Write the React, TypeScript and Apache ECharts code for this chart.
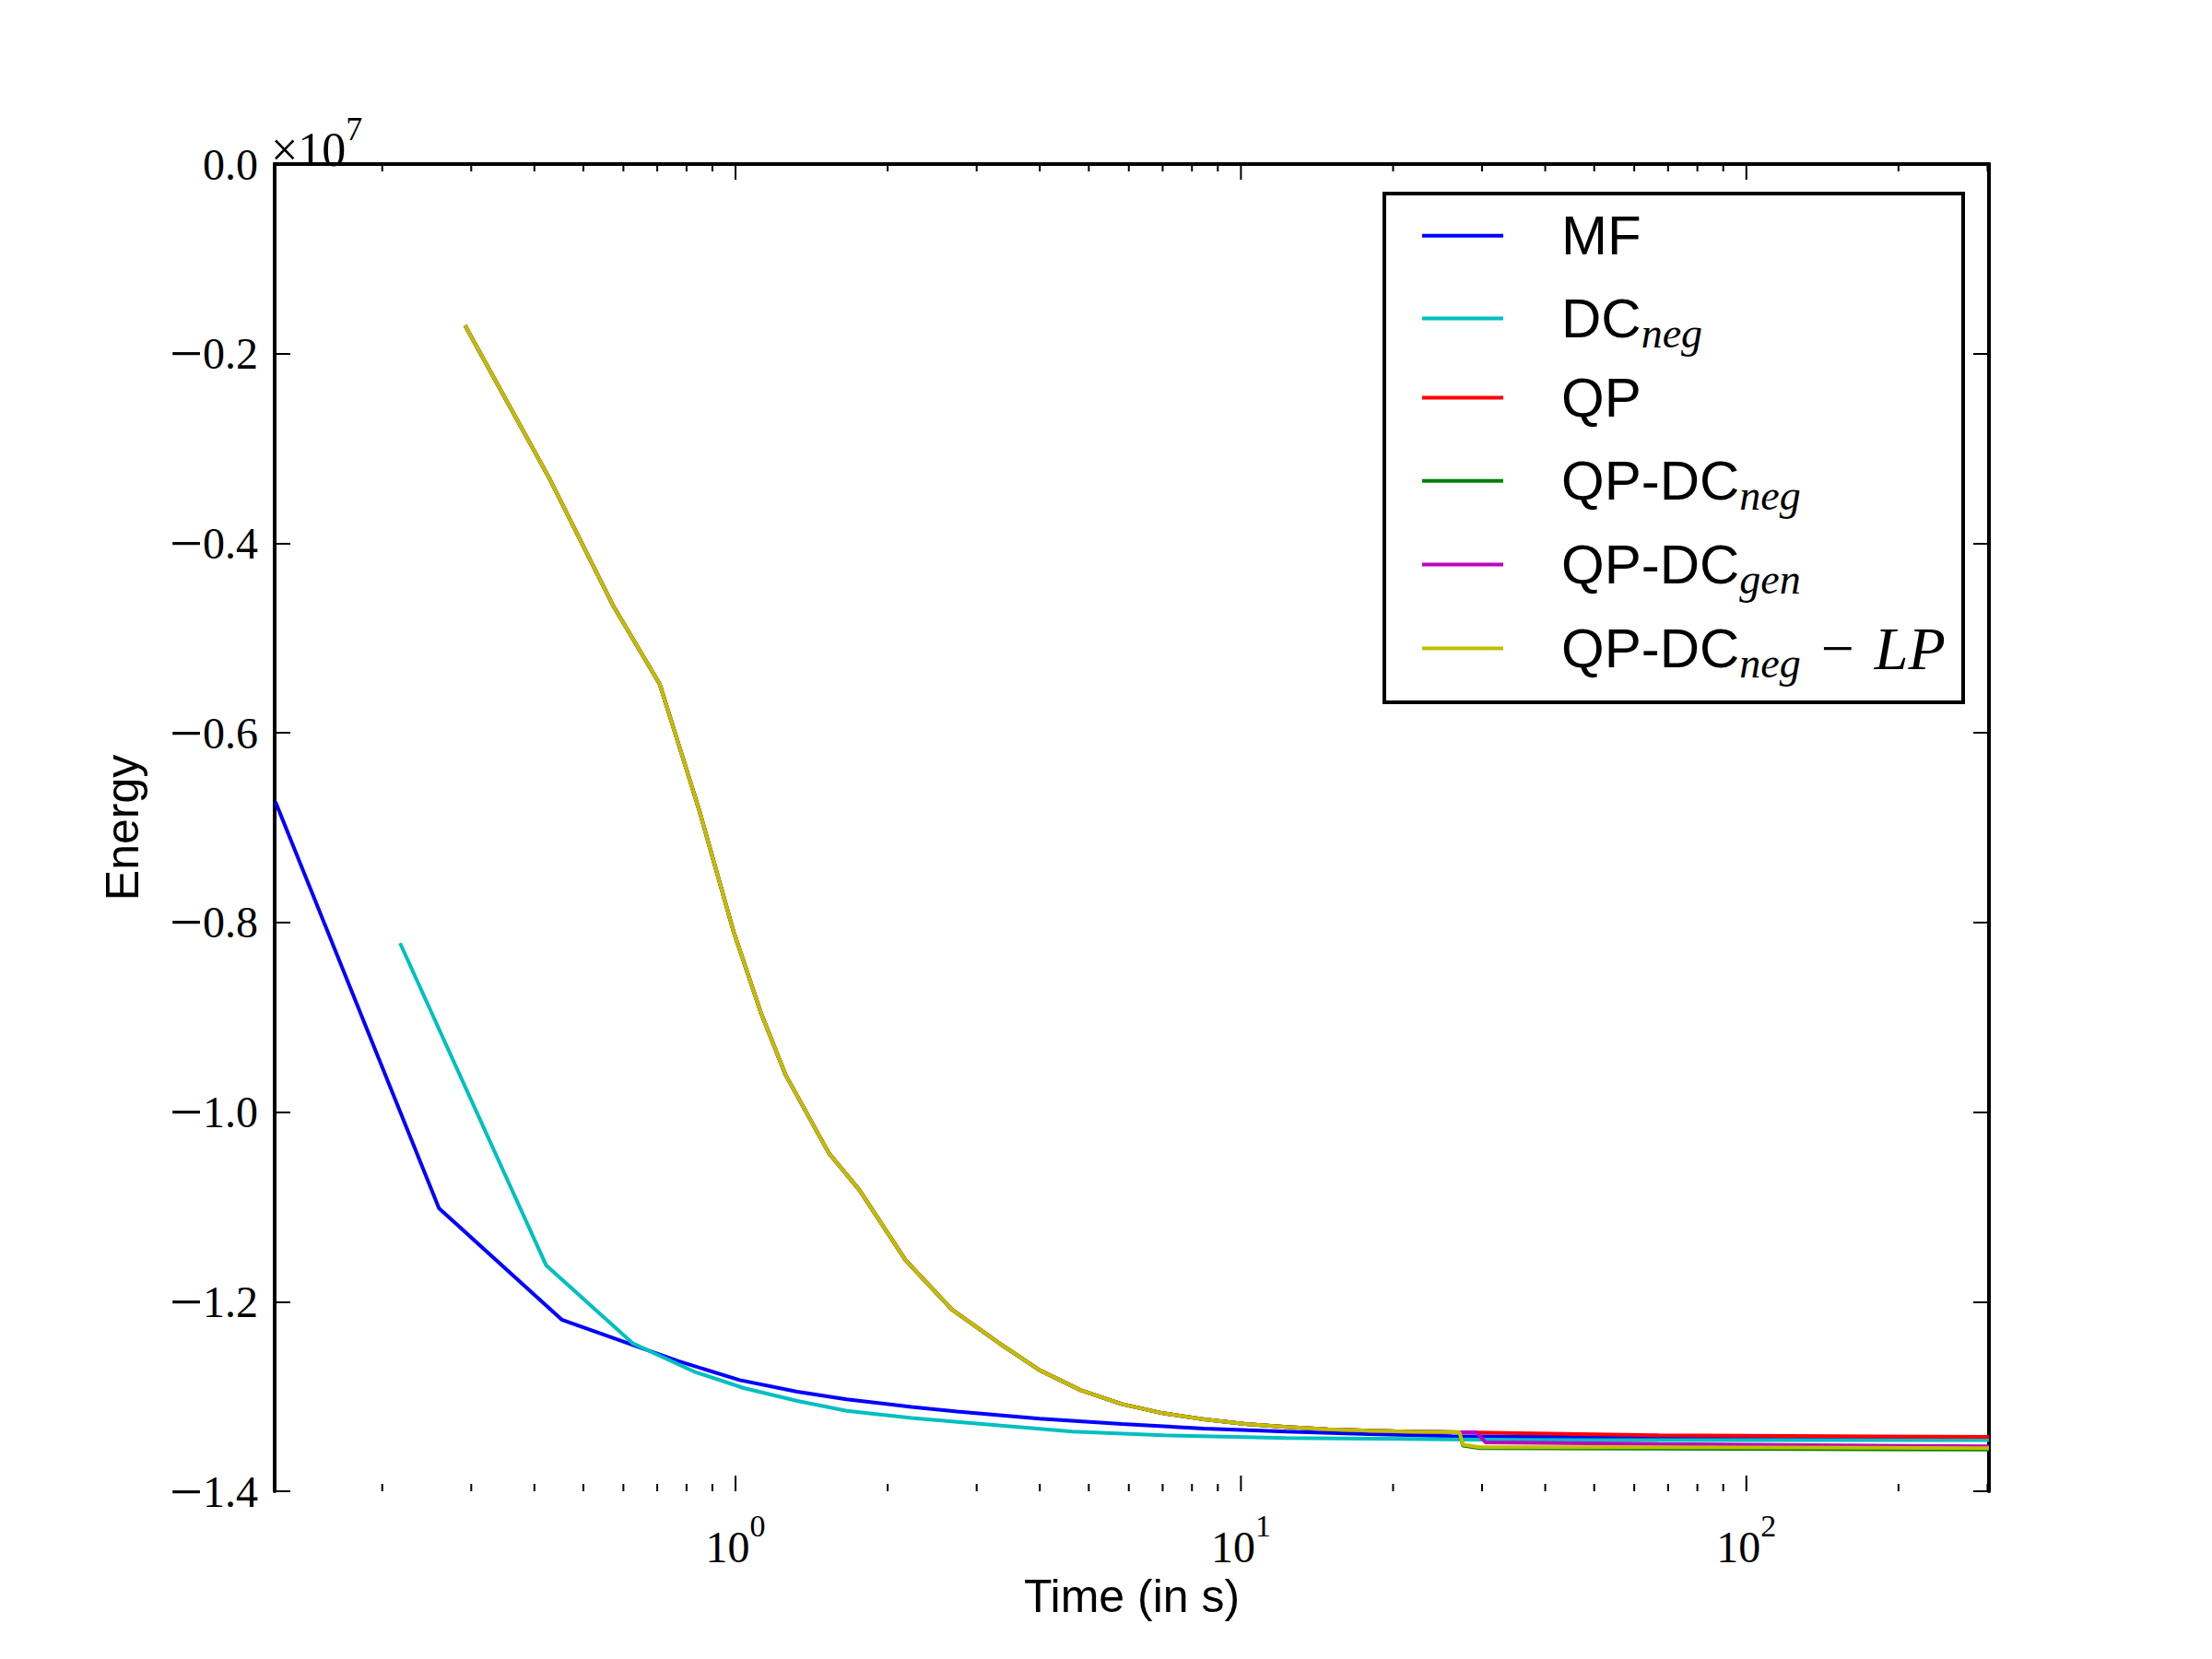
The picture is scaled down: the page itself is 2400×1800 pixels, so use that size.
import React, { useEffect, useRef } from "react";
import * as echarts from "echarts";

// Energies are read in units of 1e7 (as on the axis), times in seconds.
const SCALE = 1e7;

const mfTime = [0.123, 0.259, 0.453, 0.769, 1.019, 1.325, 1.659, 2.23, 2.745, 3.996, 5.81, 8.46, 12.3, 17.9, 26.1, 35.7, 67, 302];
const mfEnergy = [-0.673, -1.1015, -1.219, -1.2626, -1.2827, -1.295, -1.303, -1.311, -1.316, -1.3234, -1.329, -1.3338, -1.3371, -1.3397, -1.3419, -1.3425, -1.343, -1.343];

const dcTime = [0.2169, 0.4218, 0.6254, 0.8288, 1.038, 1.325, 1.659, 2.23, 2.745, 4.64, 7.01, 12.3, 26.1, 35.7, 302];
const dcEnergy = [-0.8218, -1.1615, -1.2438, -1.2739, -1.2911, -1.3047, -1.3151, -1.3226, -1.3268, -1.3371, -1.341, -1.3439, -1.3453, -1.346, -1.346];

// QP family: identical up to ~27 s
const qpTime = [0.2917, 0.4274, 0.5735, 0.7076, 0.764, 0.849, 0.99, 1.123, 1.256, 1.529, 1.758, 2.169, 2.677, 3.311, 3.996, 4.82, 5.81, 7.01, 8.46, 10.2, 12.3, 14.85, 17.9, 21.6, 27.06];
const qpEnergy = [-0.1704, -0.3307, -0.4665, -0.5483, -0.6047, -0.6829, -0.8087, -0.8955, -0.9607, -1.0431, -1.0822, -1.156, -1.208, -1.2432, -1.2723, -1.2934, -1.308, -1.3177, -1.3242, -1.329, -1.3323, -1.3346, -1.3361, -1.3371, -1.3377];

const qpTailTime = [67, 302];
const qpTailEnergy = [-1.341, -1.3427];

const qpDcNegTailTime = [27.5, 29.7, 67, 302];
const qpDcNegTailEnergy = [-1.352, -1.3545, -1.355, -1.356];

const qpDcGenTailTime = [29.2, 30.5, 67, 302];
const qpDcGenTailEnergy = [-1.3377, -1.3485, -1.3502, -1.3527];

const qpLpTailTime = [27.5, 29.7, 67, 302];
const qpLpTailEnergy = [-1.351, -1.3535, -1.3535, -1.3545];

const X_MIN = 0.1225;
const X_MAX = 302;
const Y_MIN = -1.4 * SCALE;
const Y_MAX = 0;
const Y_STEP = 0.2 * SCALE;

const xMajorTicks = [1, 10, 100];
const xMinorTicks = [0.2, 0.3, 0.4, 0.5, 0.6, 0.7, 0.8, 0.9, 2, 3, 4, 5, 6, 7, 8, 9, 20, 30, 40, 50, 60, 70, 80, 90, 200, 300];

const seriesNames = ["MF", "DC_neg", "QP", "QP-DC_neg", "QP-DC_gen", "QP-DC_neg − LP"];
const seriesColors = ["#0000ff", "#00bfbf", "#ff0000", "#008000", "#bf00bf", "#bfbf00"];
const legendLabels: Record<string, string> = {
  "MF": "{m|MF}",
  "DC_neg": "{m|DC}{s|neg}",
  "QP": "{m|QP}",
  "QP-DC_neg": "{m|QP-DC}{s|neg}",
  "QP-DC_gen": "{m|QP-DC}{s|gen}",
  "QP-DC_neg − LP": "{m|QP-DC}{s|neg}{o|−}{i|LP}",
};

function pairs(t: number[], e: number[]) {
  return t.map((v, i) => [v, e[i] * SCALE]);
}

const SERIF = "Liberation Serif";
const SANS = "Liberation Sans";

export default function App() {
  const ref = useRef<HTMLDivElement>(null);
  useEffect(() => {
    if (!ref.current) return;
    const chart = echarts.init(ref.current, undefined, { renderer: "svg" });
    const dataSets = [
      pairs(mfTime, mfEnergy),
      pairs(dcTime, dcEnergy),
      pairs(qpTime.concat(qpTailTime), qpEnergy.concat(qpTailEnergy)),
      pairs(qpTime.concat(qpDcNegTailTime), qpEnergy.concat(qpDcNegTailEnergy)),
      pairs(qpTime.concat(qpDcGenTailTime), qpEnergy.concat(qpDcGenTailEnergy)),
      pairs(qpTime.concat(qpLpTailTime), qpEnergy.concat(qpLpTailEnergy)),
    ];
    const lineSeries = seriesNames.map((name, i) => ({
      type: "line",
      name,
      data: dataSets[i],
      showSymbol: false,
      symbol: "none",
      xAxisIndex: 0,
      yAxisIndex: 0,
      lineStyle: { color: seriesColors[i], width: 4 },
      itemStyle: { color: seriesColors[i] },
      z: 3 + i,
    }));
    const tickData = xMajorTicks.map((t) => [t, -0.7 * SCALE, 1]).concat(xMinorTicks.map((t) => [t, -0.7 * SCALE, 0]));
    const axisLineStyle = { show: true, lineStyle: { color: "#000", width: 4 } };
    const supRich = {
      b: { fontFamily: SERIF, fontSize: 48, lineHeight: 64, verticalAlign: "bottom", color: "#000" },
      s: { fontFamily: SERIF, fontSize: 34, lineHeight: 34, verticalAlign: "top", color: "#000" },
    };
    const legendRich = {
      m: { fontFamily: SANS, fontSize: 60, lineHeight: 78, color: "#000" },
      s: { fontFamily: SERIF, fontStyle: "italic", fontSize: 46, lineHeight: 46, padding: [32, 0, 0, 0], color: "#000" },
      o: { fontFamily: SERIF, fontSize: 64, lineHeight: 78, padding: [0, 22, 0, 22], color: "#000" },
      i: { fontFamily: SERIF, fontStyle: "italic", fontSize: 66, lineHeight: 78, color: "#000" },
    };
    const legendCenters = [255.8, 345.4, 431.5, 521.8, 612.5, 703.5];
    const legends = seriesNames.map((name, i) => ({
      data: [name],
      orient: "vertical",
      left: 1543,
      top: legendCenters[i] - 39,
      padding: 0,
      itemWidth: 88,
      itemHeight: 4,
      icon: "rect",
      selectedMode: false,
      formatter: (n: string) => legendLabels[n] || n,
      textStyle: { color: "#000", lineHeight: 78, padding: [0, 0, 0, 58], rich: legendRich },
    }));
    const option: any = {
      animation: false,
      backgroundColor: "#fff",
      grid: { left: 298, top: 178, right: 242, bottom: 182, containLabel: false },
      xAxis: [
        {
          type: "log",
          logBase: 10,
          min: X_MIN,
          max: X_MAX,
          position: "bottom",
          axisLine: axisLineStyle,
          axisTick: { show: false },
          splitLine: { show: false },
          minorTick: { show: false },
          axisLabel: {
            show: true,
            margin: 20,
            showMinLabel: false,
            showMaxLabel: false,
            formatter: (v: number) => {
              const e = Math.round(Math.log10(v));
              if (Math.abs(v - Math.pow(10, e)) / v > 1e-6) return "";
              return `{b|10}{s|${e}}`;
            },
            rich: supRich,
          },
          name: "Time (in s)",
          nameLocation: "middle",
          nameGap: 80,
          nameTextStyle: { fontFamily: SANS, fontSize: 50, color: "#000" },
        },
        {
          type: "log",
          logBase: 10,
          min: X_MIN,
          max: X_MAX,
          position: "top",
          axisLine: axisLineStyle,
          axisTick: { show: false },
          axisLabel: { show: false },
          splitLine: { show: false },
        },
      ],
      yAxis: [
        {
          type: "value",
          min: Y_MIN,
          max: Y_MAX,
          interval: Y_STEP,
          position: "left",
          axisLine: axisLineStyle,
          axisTick: { show: true, inside: true, length: 17, lineStyle: { color: "#000", width: 2 } },
          splitLine: { show: false },
          axisLabel: {
            margin: 18,
            color: "#000",
            fontFamily: SERIF,
            fontSize: 48,
            formatter: (v: number) => {
              const x = v / SCALE;
              if (Math.abs(x) < 1e-9) return "{n|0.0}";
              return "{m|−}{n|" + Math.abs(x).toFixed(1) + "}";
            },
            rich: {
              m: { fontFamily: SERIF, fontSize: 64, lineHeight: 64, color: "#000" },
              n: { fontFamily: SERIF, fontSize: 48, lineHeight: 64, color: "#000" },
            },
          },
          name: "Energy",
          nameLocation: "middle",
          nameGap: 140,
          nameMoveOverlap: false,
          nameTextStyle: { fontFamily: SANS, fontSize: 50, color: "#000" },
        },
        {
          type: "value",
          min: Y_MIN,
          max: Y_MAX,
          interval: Y_STEP,
          position: "right",
          axisLine: axisLineStyle,
          axisTick: { show: true, inside: true, length: 17, lineStyle: { color: "#000", width: 2 } },
          splitLine: { show: false },
          axisLabel: { show: false },
        },
      ],
      legend: legends,
      graphic: [
        {
          type: "rect",
          shape: { x: 1502, y: 210, width: 628, height: 552 },
          style: { fill: "none", stroke: "#000", lineWidth: 4 },
          z: 100,
          silent: true,
        },
        {
          type: "text",
          x: 294,
          y: 122,
          z: 100,
          style: {
            text: "{x|×}{b|10}{s|7}",
            rich: {
              b: { fontFamily: SERIF, fontSize: 52, lineHeight: 66, verticalAlign: "bottom", color: "#000" },
              s: { fontFamily: SERIF, fontSize: 36, lineHeight: 36, verticalAlign: "top", color: "#000" },
              x: { fontFamily: SERIF, fontSize: 52, lineHeight: 66, verticalAlign: "bottom", color: "#000" },
            },
            verticalAlign: "top",
            align: "left",
          },
        },
      ],
      series: [
        ...lineSeries,
        {
          type: "custom",
          name: "xticks",
          xAxisIndex: 0,
          yAxisIndex: 0,
          silent: true,
          clip: false,
          z: 20,
          encode: { x: 0, y: 1 },
          data: tickData,
          renderItem: (params: any, api: any) => {
            const t = api.value(0);
            const len = api.value(2) ? 17 : 8;
            const b = api.coord([t, Y_MIN]);
            const tp = api.coord([t, Y_MAX]);
            return {
              type: "group",
              children: [
                { type: "line", shape: { x1: b[0], y1: b[1], x2: b[0], y2: b[1] - len }, style: { stroke: "#000", lineWidth: 2 } },
                { type: "line", shape: { x1: tp[0], y1: tp[1], x2: tp[0], y2: tp[1] + len }, style: { stroke: "#000", lineWidth: 2 } },
              ],
            };
          },
        },
      ],
    };
    chart.setOption(option);
    return () => chart.dispose();
  }, []);
  return (
    <div
      ref={ref}
      style={{ position: "fixed", left: 0, top: 0, width: 2400, height: 1800, background: "#fff" }}
    />
  );
}
